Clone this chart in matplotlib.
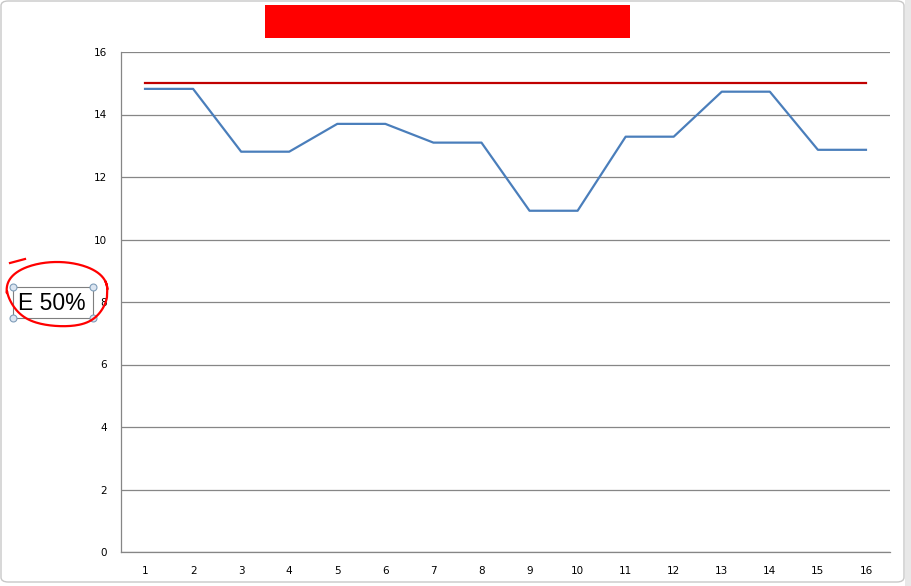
import matplotlib
matplotlib.use("Agg")
import matplotlib.pyplot as plt
import numpy as np
from matplotlib.patches import Rectangle, FancyBboxPatch
from matplotlib.lines import Line2D

categories = list(range(1, 17))
series_values = [14.82, 14.82, 12.81, 12.81, 13.70, 13.70, 13.10, 13.10,
                 10.92, 10.92, 13.29, 13.29, 14.73, 14.73, 12.87, 12.87]
target_values = [15.0] * 16
y_ticks = [0, 2, 4, 6, 8, 10, 12, 14, 16]

W, H = 911, 586
fig = plt.figure(figsize=(W / 100, H / 100), dpi=100)
fig.patch.set_facecolor("white")

def fx(px):
    return np.asarray(px) / W

def fy(py):
    return 1 - np.asarray(py) / H

ax = fig.add_axes([fx(121), fy(552), fx(890) - fx(121), fy(52) - fy(552)])
ax.plot(categories, target_values, color="#c00000", lw=1.6, zorder=3)
ax.plot(categories, series_values, color="#4a7ebb", lw=1.6, zorder=3)
ax.set_xlim(0.5, 16.5)
ax.set_ylim(0, 16)
ax.set_xticks(categories)
ax.set_yticks(y_ticks)
ax.tick_params(length=0, labelsize=7.5, colors="black")
ax.tick_params(axis="y", pad=10)
ax.tick_params(axis="x", pad=10)
ax.grid(axis="y", color="#868686", lw=0.9)
ax.set_axisbelow(True)
for s in ["top", "right"]:
    ax.spines[s].set_visible(False)
for s in ["left", "bottom"]:
    ax.spines[s].set_color("#868686")
    ax.spines[s].set_linewidth(0.9)

# Title placeholder: red bar
fig.patches.append(Rectangle((fx(265), fy(38)), fx(630) - fx(265), fy(5) - fy(38),
                             transform=fig.transFigure, facecolor="#ff0000",
                             edgecolor="none", zorder=5))

# Text box "E 50%"
fig.patches.append(Rectangle((fx(13), fy(318)), fx(93) - fx(13), fy(287) - fy(318),
                             transform=fig.transFigure, facecolor="white",
                             edgecolor="#7f7f7f", lw=0.8, zorder=5))
fig.text(fx(52), fy(303), "E 50%", fontsize=16.5, ha="center", va="center",
         family="Liberation Sans", zorder=6)
fig.lines.append(Line2D(fx([13, 93, 13, 93]), fy([287, 287, 318, 318]),
                        transform=fig.transFigure, linestyle="none", marker="o",
                        markersize=5, markerfacecolor="#dbe5f1",
                        markeredgecolor="#7f9db9", markeredgewidth=0.8, zorder=7))

# Hand-drawn red ellipse
t = np.linspace(0.15, 2 * np.pi + 0.35, 200)
rx = 50 + 2 * np.sin(3 * t)
ry = 34 + 2 * np.cos(2 * t)
px = 57 + rx * np.cos(t)
py = 294 - ry * np.sin(t) + 3 * np.cos(t) * (np.sin(t) < 0)
fig.lines.append(Line2D(fx(px), fy(py), transform=fig.transFigure,
                        color="#ff0000", lw=1.6, zorder=8))
fig.lines.append(Line2D(fx([10, 25]), fy([263, 259]), transform=fig.transFigure,
                        color="#ff0000", lw=1.6, zorder=8))

# Outer chart border
fig.patches.append(FancyBboxPatch((fx(1), fy(582)), fx(904) - fx(1), fy(1) - fy(582),
                                  boxstyle="round,pad=0,rounding_size=0.008",
                                  transform=fig.transFigure, facecolor="none",
                                  edgecolor="#c8c8c8", lw=1.0, zorder=1))
fig.patches.append(Rectangle((fx(905), 0), fx(911) - fx(905), 1,
                             transform=fig.transFigure, facecolor="#e8e8e8",
                             edgecolor="none", zorder=1))

fig.savefig("out.png", dpi=100, facecolor="white")
